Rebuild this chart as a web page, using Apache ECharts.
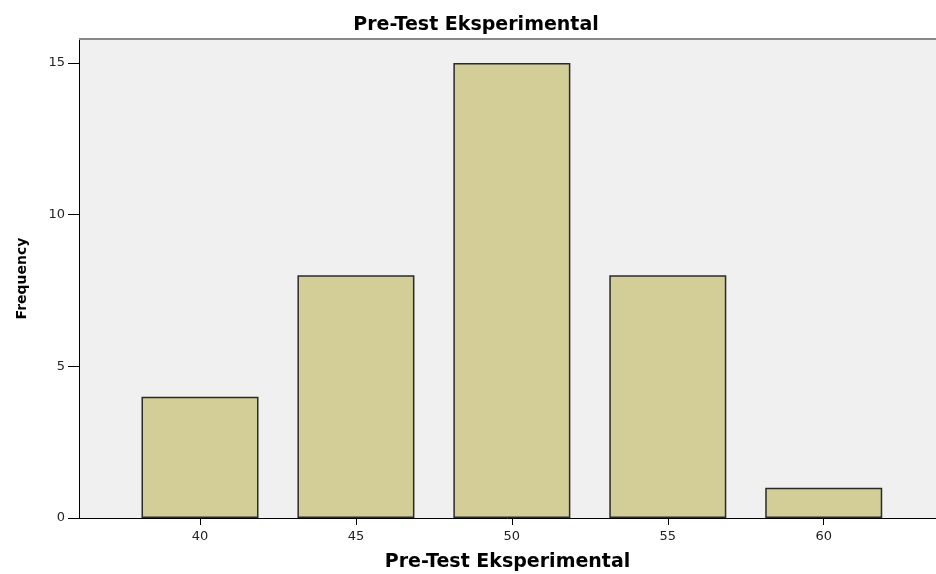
<!DOCTYPE html>
<html><head><meta charset="utf-8">
<script src="https://cdn.jsdelivr.net/npm/echarts@6/dist/echarts.min.js"></script>
<style>html,body{margin:0;padding:0;background:#fff}#c{width:936px;height:574px}</style>
</head><body><div id="c"></div>
<script>
const categories = [40, 45, 50, 55, 60];
const frequencies = [4, 8, 15, 8, 1];
const yTicks = [0, 5, 10, 15];

const chart = echarts.init(document.getElementById('c'));
const font = '"DejaVu Sans", Verdana, sans-serif';
chart.setOption({
  animation: false,
  title: {
    text: 'Pre-Test Eksperimental', left: 471, top: 11, textAlign: 'center',
    textStyle: {fontFamily: font, fontSize: 19, fontWeight: 'bold', color: '#000'}
  },
  grid: {left: 79, top: 39, right: 0, bottom: 56, outerBoundsMode: 'none', containLabel: false,
         show: true, backgroundColor: '#f0f0f0', borderWidth: 0},
  xAxis: {
    type: 'value', min: 36.12, max: 63.6,
    name: 'Pre-Test Eksperimental', nameLocation: 'middle', nameGap: 35,
    nameTextStyle: {fontFamily: font, fontSize: 19, fontWeight: 'bold', color: '#000'},
    axisLine: {show: true, lineStyle: {color: '#000', width: 1}},
    axisTick: {show: true, length: 7, lineStyle: {color: '#000'}, customValues: categories},
    axisLabel: {fontFamily: font, fontSize: 13, color: '#222', margin: 12, customValues: categories},
    splitLine: {show: false}
  },
  yAxis: {
    type: 'value', min: 0, max: 15.79,
    name: 'Frequency', nameLocation: 'middle', nameGap: 50, nameRotate: 90,
    nameTextStyle: {fontFamily: font, fontSize: 14, fontWeight: 'bold', color: '#000'},
    axisLine: {show: true, lineStyle: {color: '#000', width: 1}},
    axisTick: {show: true, length: 11, lineStyle: {color: '#000'}, customValues: yTicks},
    axisLabel: {fontFamily: font, fontSize: 13, color: '#222', margin: 14, customValues: yTicks},
    splitLine: {show: false}
  },
  series: [{
    type: 'bar', barWidth: 117,
    data: categories.map((c, i) => [c, frequencies[i]]),
    itemStyle: {color: '#d3ce97', borderColor: '#2a2a2a', borderWidth: 1.5}
  }, {
    type: 'line', silent: true, symbol: 'none',
    data: [[36.12, 15.79], [63.6, 15.79]],
    lineStyle: {color: '#888', width: 2}, z: 5
  }]
});
</script></body></html>
